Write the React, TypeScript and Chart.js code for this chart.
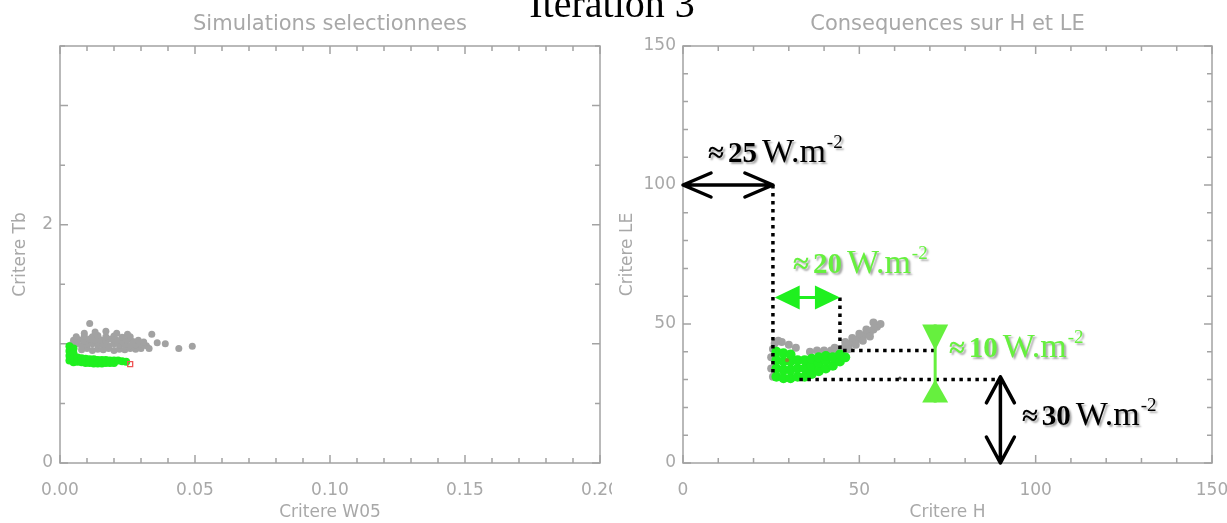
import React, { useEffect, useRef } from 'react';
import { Chart, registerables } from 'chart.js';
Chart.register(...registerables);

// ---------------- data ----------------
// Left panel: Critere W05 (x) vs Critere Tb (y)
const leftAllSims: [number, number][] = [
  [0.008, 0.95], [0.01, 0.96], [0.012, 0.945], [0.014, 0.955], [0.016, 0.95], [0.018, 0.96], [0.02, 0.945], [0.022, 0.955],
  [0.024, 0.95], [0.026, 0.96], [0.028, 0.955], [0.03, 0.96],
  [0.004, 0.99], [0.006, 1.0], [0.008, 0.985], [0.01, 0.995], [0.012, 1.0], [0.014, 0.99], [0.016, 0.995], [0.018, 0.985],
  [0.02, 1.0], [0.022, 0.99], [0.024, 0.995], [0.026, 0.985], [0.028, 0.99], [0.03, 0.995], [0.032, 0.985],
  [0.005, 1.03], [0.007, 1.035], [0.009, 1.025], [0.011, 1.04], [0.013, 1.03], [0.015, 1.035], [0.017, 1.025], [0.019, 1.04],
  [0.021, 1.03], [0.023, 1.025], [0.025, 1.035], [0.027, 1.02], [0.029, 1.03], [0.031, 1.015],
  [0.006, 1.06], [0.009, 1.065], [0.012, 1.06], [0.014, 1.07], [0.017, 1.06], [0.02, 1.065], [0.023, 1.055], [0.026, 1.06],
  [0.013, 1.1], [0.017, 1.105], [0.021, 1.09], [0.009, 1.09], [0.025, 1.08], [0.034, 1.08],
  [0.011, 1.17], [0.036, 1.01], [0.039, 1.0], [0.044, 0.96], [0.049, 0.98], [0.033, 0.96],
];
const leftSelected: [number, number][] = [
  [0.0035, 0.98], [0.0035, 0.94], [0.0035, 0.9], [0.0035, 0.86], [0.005, 0.96], [0.005, 0.92], [0.005, 0.88], [0.005, 0.845],
  [0.0065, 0.885], [0.0065, 0.85], [0.008, 0.88], [0.008, 0.845], [0.0095, 0.875], [0.0095, 0.84], [0.011, 0.87], [0.011, 0.84],
  [0.0125, 0.87], [0.0125, 0.835], [0.014, 0.865], [0.014, 0.835], [0.0155, 0.865], [0.0155, 0.835], [0.017, 0.865], [0.017, 0.84],
  [0.0185, 0.86], [0.0185, 0.84], [0.02, 0.86], [0.02, 0.84], [0.0215, 0.86], [0.023, 0.855], [0.0245, 0.85],
];
const leftBest: [number, number][] = [[0.026, 0.83]];

const leftXLabelled = [0, 0.05, 0.1, 0.15, 0.2];
const leftYLabelled = [0, 2];

// Right panel: Critere H (x) vs Critere LE (y)
const rightAllSims: [number, number][] = [
  [25, 38], [25.5, 41], [26, 43], [27, 44], [28, 43.5], [25, 34], [30, 42.5], [32, 41.5], [25.5, 31],
  [44, 40.5], [45, 41], [46, 42], [47, 42.5], [48, 43.5], [49, 44], [50, 45], [51, 45.5], [52, 46.5], [53, 47], [54, 48], [55, 49], [56, 50],
  [47, 41], [49, 42.5], [51, 44], [53, 45.5], [46, 43.5], [48, 45], [50, 46.5], [52, 48], [54, 50.5],
  [43, 41.5], [42, 40.5], [40, 40.5], [38, 40.5], [36, 40],
];
const rightSelected: [number, number][] = [
  [26.5, 31], [26.5, 34], [26.5, 37], [26.5, 40],
  [28.5, 30.5], [28.5, 33.5], [28.5, 36.5], [28.5, 39.5],
  [30.5, 30.5], [30.5, 33.5], [30.5, 36.5], [30.5, 39],
  [32.5, 31], [32.5, 34], [32.5, 37],
  [34.5, 31], [34.5, 34], [34.5, 37],
  [36.5, 32], [36.5, 35], [36.5, 37.5],
  [38.5, 33], [38.5, 36], [38.5, 38],
  [40.5, 34], [40.5, 37], [40.5, 38.5],
  [42.5, 35], [42.5, 38],
  [44.5, 36.5], [44.5, 39],
  [46, 38],
];
const rightOlive: [number, number][] = [[29.5, 37]];
const rightStray: [number, number][] = [[61.5, 30.5]];
const rightLabelled = [0, 50, 100, 150];

// dotted guide lines (H, LE)
const guideA: [number, number][] = [[25.5, 100], [25.5, 31]];
const guideB: [number, number][] = [[33, 30], [90, 30]];
const guideC: [number, number][] = [[44.5, 59.5], [44.5, 40.5], [71.5, 40.5]];

// annotation arrows (H, LE)
const arrow25 = { le: 100, h0: 0, h1: 25.5 };
const arrow30 = { h: 90, le0: 0, le1: 31 };
const arrow20 = { le: 59.5, h0: 26, h1: 44.5 };
const mark10 = { h: 71.5, le0: 30, le1: 40.5 };
const labelTexts = [
  { num: '25', h: 7.1, le: 108.3, dark: true },
  { num: '20', h: 31.2, le: 68.3, dark: false },
  { num: '10', h: 75.4, le: 38.1, dark: false },
  { num: '30', h: 96.1, le: 13.7, dark: true },
];

// ---------------- styles ----------------
const AXIS = '#a3a3a3';
const TXT = '#a8a8a8';
const GRAYPT = '#a2a2a2';
const GREEN = '#1ff01f';
const LGREEN = '#66f03e';
const FONT = 'DejaVu Sans';

const toXY = (arr: [number, number][]) => arr.map(([x, y]) => ({ x, y }));
const isIn = (list: number[], v: number) => list.some((l) => Math.abs(l - v) < 1e-9);

function frameTicks(majorX: (v: number) => boolean, majorY: (v: number) => boolean) {
  return {
    id: 'frameTicks',
    beforeDatasetsDraw(chart: any) {
      const { ctx, chartArea: a, scales } = chart;
      ctx.save();
      ctx.strokeStyle = AXIS;
      ctx.lineWidth = 1.5;
      ctx.strokeRect(a.left, a.top, a.right - a.left, a.bottom - a.top);
      ctx.beginPath();
      scales.x.ticks.forEach((t: any) => {
        const p = scales.x.getPixelForValue(t.value);
        const L = majorX(t.value) ? 8 : 5;
        ctx.moveTo(p, a.bottom); ctx.lineTo(p, a.bottom - L);
        ctx.moveTo(p, a.top); ctx.lineTo(p, a.top + L);
      });
      scales.y.ticks.forEach((t: any) => {
        const p = scales.y.getPixelForValue(t.value);
        const L = majorY(t.value) ? 8 : 5;
        ctx.moveTo(a.left, p); ctx.lineTo(a.left + L, p);
        ctx.moveTo(a.right, p); ctx.lineTo(a.right - L, p);
      });
      ctx.stroke();
      ctx.restore();
    },
  };
}

function chevron(ctx: CanvasRenderingContext2D, tx: number, ty: number, dx: number, dy: number, len: number, half: number) {
  const bx = tx - dx * len, by = ty - dy * len;
  const nx = -dy, ny = dx;
  ctx.moveTo(bx + nx * half, by + ny * half);
  ctx.lineTo(tx, ty);
  ctx.lineTo(bx - nx * half, by - ny * half);
}
function triangle(ctx: CanvasRenderingContext2D, tx: number, ty: number, dx: number, dy: number, len: number, half: number) {
  const bx = tx - dx * len, by = ty - dy * len;
  const nx = -dy, ny = dx;
  ctx.beginPath();
  ctx.moveTo(bx + nx * half, by + ny * half);
  ctx.lineTo(tx, ty);
  ctx.lineTo(bx - nx * half, by - ny * half);
  ctx.closePath();
  ctx.fill();
}

function drawLabel(ctx: CanvasRenderingContext2D, x: number, y: number, num: string, color: string) {
  ctx.save();
  ctx.fillStyle = color;
  ctx.shadowColor = 'rgba(0,0,0,0.35)';
  ctx.shadowOffsetX = 2;
  ctx.shadowOffsetY = 2;
  ctx.shadowBlur = 2;
  ctx.textAlign = 'left';
  ctx.textBaseline = 'alphabetic';
  ctx.font = 'bold 29px "Liberation Serif"';
  ctx.fillText('\u2248', x, y);
  x += ctx.measureText('\u2248').width + 4;
  ctx.fillText(num, x, y);
  x += ctx.measureText(num).width + 5;
  ctx.font = '34px "Liberation Serif"';
  ctx.fillText('W.m', x, y);
  x += ctx.measureText('W.m').width + 1;
  ctx.font = '19px "Liberation Serif"';
  ctx.fillText('-2', x, y - 14);
  ctx.restore();
}

const annotations = {
  id: 'annotations',
  afterDatasetsDraw(chart: any) {
    const { ctx, scales } = chart;
    const px = (v: number) => scales.x.getPixelForValue(v);
    const py = (v: number) => scales.y.getPixelForValue(v);
    ctx.save();
    ctx.strokeStyle = '#000';
    ctx.lineWidth = 3.5;
    ctx.lineCap = 'round';
    ctx.lineJoin = 'round';
    ctx.beginPath();
    const ay = py(arrow25.le), ax0 = px(arrow25.h0), ax1 = px(arrow25.h1);
    ctx.moveTo(ax0, ay); ctx.lineTo(ax1, ay);
    chevron(ctx, ax0, ay, -1, 0, 28, 12);
    chevron(ctx, ax1, ay, 1, 0, 28, 12);
    const bx = px(arrow30.h), by0 = py(arrow30.le0), by1 = py(arrow30.le1);
    ctx.moveTo(bx, by0); ctx.lineTo(bx, by1);
    chevron(ctx, bx, by0, 0, 1, 26, 14);
    chevron(ctx, bx, by1, 0, -1, 26, 14);
    ctx.stroke();
    ctx.fillStyle = GREEN;
    ctx.strokeStyle = GREEN;
    ctx.lineWidth = 3;
    ctx.lineCap = 'butt';
    const gy = py(arrow20.le), gx0 = px(arrow20.h0), gx1 = px(arrow20.h1);
    ctx.beginPath(); ctx.moveTo(gx0 + 10, gy); ctx.lineTo(gx1 - 10, gy); ctx.stroke();
    triangle(ctx, gx0, gy, -1, 0, 25, 12);
    triangle(ctx, gx1, gy, 1, 0, 25, 12);
    ctx.fillStyle = LGREEN;
    ctx.strokeStyle = LGREEN;
    const mx = px(mark10.h), mTop = py(mark10.le1), mBot = py(mark10.le0);
    ctx.beginPath(); ctx.moveTo(mx, mTop - 26); ctx.lineTo(mx, mBot + 23); ctx.stroke();
    triangle(ctx, mx, mTop, 0, 1, 26, 13);
    triangle(ctx, mx, mBot, 0, -1, 23, 13);
    ctx.restore();
    labelTexts.forEach((l) => drawLabel(ctx, px(l.h), py(l.le), l.num, l.dark ? '#000' : LGREEN));
  },
};

const tickFont = { family: FONT, size: 17 };
const titleFont = { family: FONT, size: 17 };

function axisX(min: number, max: number, step: number, labelled: number[], fmt: (v: number) => string, title: string) {
  return {
    type: 'linear',
    min, max,
    grid: { display: false, drawTicks: false },
    border: { display: false },
    ticks: {
      stepSize: step, autoSkip: false, maxRotation: 0, padding: 17, color: TXT, font: tickFont,
      callback: (v: any) => (isIn(labelled, Number(v)) ? fmt(Number(v)) : ''),
    },
    title: { display: true, text: title, color: TXT, font: titleFont, padding: { top: 0, bottom: 0 } },
    afterFit: (s: any) => { s.height = 60; },
  };
}
function axisY(min: number, max: number, step: number, labelled: number[], title: string, width: number, titlePad: number) {
  return {
    type: 'linear',
    min, max,
    grid: { display: false, drawTicks: false },
    border: { display: false },
    ticks: {
      stepSize: step, autoSkip: false, padding: 7, color: TXT, font: tickFont,
      callback: (v: any) => (isIn(labelled, Number(v)) ? String(Number(v)) : ''),
    },
    title: { display: true, text: title, color: TXT, font: titleFont, padding: { top: titlePad, bottom: 0 } },
    afterFit: (s: any) => { s.width = width; },
  };
}

function titleOpts(text: string) {
  return {
    display: true, text, color: TXT, fullSize: false,
    font: { family: FONT, size: 21, weight: 'normal' as const, lineHeight: 1.2 },
    padding: { top: 12, bottom: 8.8 },
  };
}

function LeftChart() {
  const ref = useRef<HTMLCanvasElement>(null);
  useEffect(() => {
    const chart = new Chart(ref.current!, {
      type: 'scatter',
      data: {
        datasets: [
          { data: toXY(leftBest), pointStyle: 'rect', pointRadius: 3.5, backgroundColor: 'rgba(0,0,0,0)', borderColor: '#ee5555', borderWidth: 1.3 },
          { data: toXY(leftSelected), pointRadius: 4, backgroundColor: GREEN, borderWidth: 0 },
          { data: toXY(leftAllSims), pointRadius: 3.5, backgroundColor: GRAYPT, borderWidth: 0 },
        ],
      },
      options: {
        animation: false, responsive: false, devicePixelRatio: 1,
        layout: { padding: { left: 0, right: 40, top: 0, bottom: 0 } },
        plugins: { legend: { display: false }, tooltip: { enabled: false }, title: titleOpts('Simulations selectionnees') },
        scales: {
          x: axisX(0, 0.2, 0.01, leftXLabelled, (v) => v.toFixed(2), 'Critere W05') as any,
          y: axisY(0, 3.5, 0.5, leftYLabelled, 'Critere Tb', 60, 10) as any,
        },
      },
      plugins: [frameTicks((v) => Math.round(v * 100) % 5 === 0, (v) => Math.round(v * 2) % 2 === 0)],
    });
    return () => chart.destroy();
  }, []);
  return <canvas ref={ref} width={640} height={523} style={{ width: 640, height: 523, display: 'block' }} />;
}

function RightChart() {
  const ref = useRef<HTMLCanvasElement>(null);
  useEffect(() => {
    const line = (pts: [number, number][]) => ({
      data: toXY(pts), showLine: true, borderColor: '#000', borderWidth: 3.5, borderDash: [3.5, 4.5],
      pointRadius: 0, borderCapStyle: 'butt' as const, fill: false,
    });
    const chart = new Chart(ref.current!, {
      type: 'scatter',
      data: {
        datasets: [
          line(guideA), line(guideB), line(guideC),
          { data: toXY(rightStray), pointRadius: 1.6, backgroundColor: '#555555', borderWidth: 0 },
          { data: toXY(rightOlive), pointRadius: 2, backgroundColor: '#8a8a30', borderWidth: 0 },
          { data: toXY(rightSelected), pointRadius: 5, backgroundColor: GREEN, borderWidth: 0 },
          { data: toXY(rightAllSims), pointRadius: 4, backgroundColor: GRAYPT, borderWidth: 0 },
        ],
      },
      options: {
        animation: false, responsive: false, devicePixelRatio: 1,
        layout: { padding: { left: 0, right: 40, top: 0, bottom: 0 } },
        plugins: { legend: { display: false }, tooltip: { enabled: false }, title: titleOpts('Consequences sur H et LE') },
        scales: {
          x: axisX(0, 150, 10, rightLabelled, (v) => String(v), 'Critere H') as any,
          y: axisY(0, 150, 10, rightLabelled, 'Critere LE', 71, 5) as any,
        },
      },
      plugins: [frameTicks((v) => v % 50 === 0, (v) => v % 50 === 0), annotations],
    });
    return () => chart.destroy();
  }, []);
  return <canvas ref={ref} width={640} height={523} style={{ width: 640, height: 523, display: 'block' }} />;
}

export default function App() {
  return (
    <div style={{ position: 'fixed', left: 0, top: 0, width: 1227, height: 523, background: '#fff', overflow: 'hidden' }}>
      <div style={{ position: 'absolute', left: 0, top: 0, width: 612, height: 523, overflow: 'hidden' }}>
        <LeftChart />
      </div>
      <div style={{ position: 'absolute', left: 612, top: 0, width: 615, height: 523, overflow: 'hidden' }}>
        <RightChart />
      </div>
      <div
        style={{
          position: 'absolute', left: 612, top: -16, transform: 'translateX(-50%)', whiteSpace: 'nowrap',
          font: '40px "Liberation Serif"', lineHeight: '40px', color: '#000',
        }}
      >
        Iteration 3
      </div>
    </div>
  );
}
